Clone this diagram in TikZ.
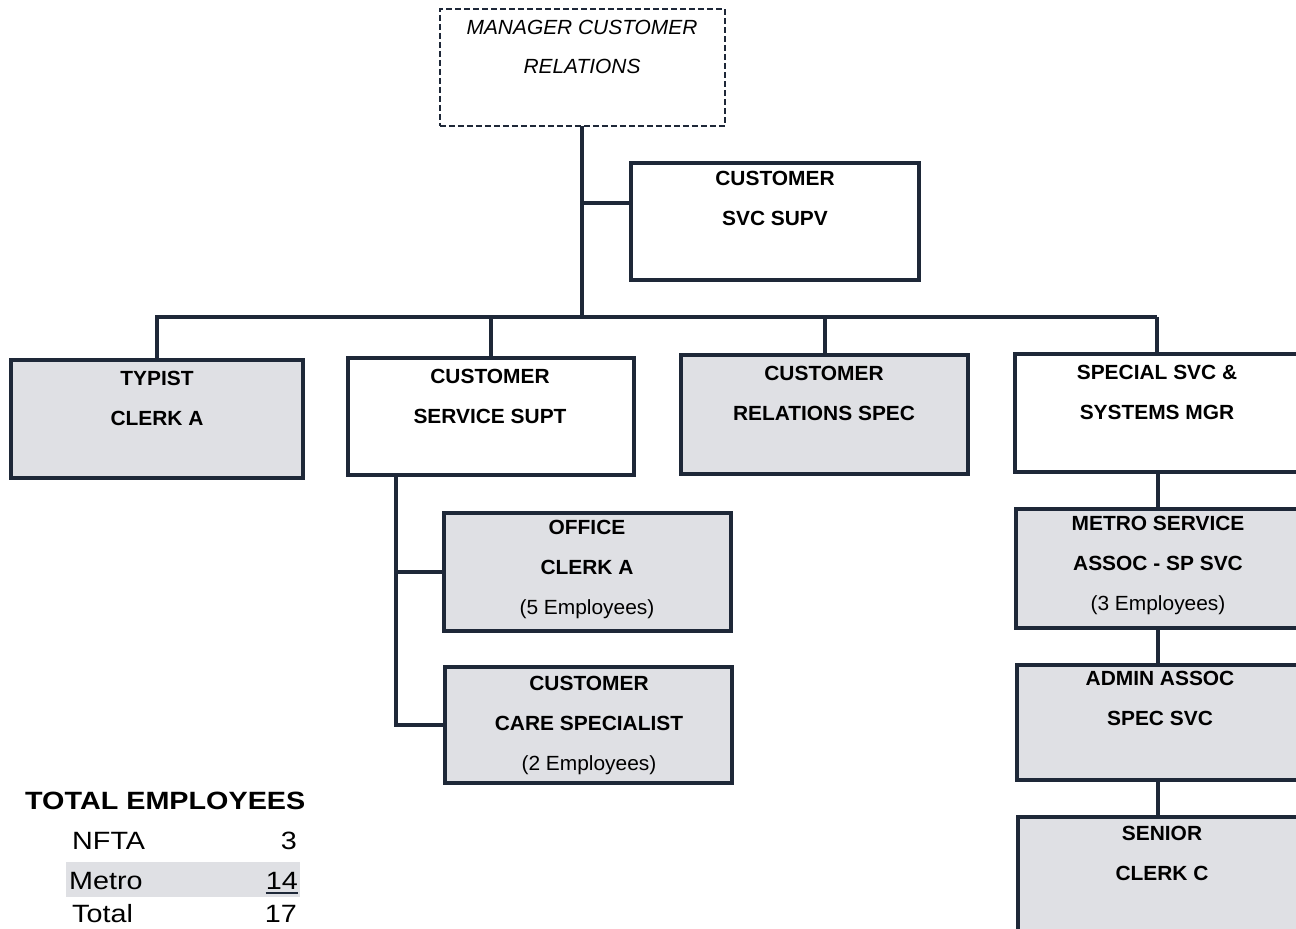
\documentclass[tikz,border=0pt]{standalone}
\usepackage{fontspec}
\setmainfont{Liberation Sans}
\usepackage{graphicx}
\definecolor{ink}{HTML}{1E2838}
\definecolor{panel}{HTML}{DFE0E4}
% centred multi-line title, baseline on its first line
\newcommand\stack[1]{\scalebox{1.02}[1]{\begin{tabular}[t]{@{}c@{}}#1\end{tabular}}}
\newcommand\legfont{\fontsize{25}{30}\selectfont}
\newcommand\legtxt[1]{\scalebox{1.15}[1]{#1}}

\begin{document}
\begin{tikzpicture}[x=1pt, y=-1pt,
  post/.style={draw=ink, line width=4pt, inner sep=0pt, anchor=north west},
  shaded/.style={post, fill=panel},
  plain/.style={post, fill=white},
  vacant/.style={draw=ink, line width=1.8pt, dash pattern=on 6pt off 3pt,
                 fill=white, inner sep=0pt, anchor=north west},
  conn/.style={draw=ink, line width=4pt},
  title/.style={anchor=base, inner sep=0pt, font=\fontsize{20.5}{40}\selectfont\bfseries},
  leg/.style={inner sep=0pt, font=\legfont}]

\useasboundingbox (0,0) rectangle (1296,929);
\clip (0,0) rectangle (1296,929);

% ---------- connectors ----------
\coordinate (bus-l) at (155,317);
\coordinate (bus-r) at (1157,317);
\coordinate (mgr-foot) at (582,125);
\coordinate (supv-tap) at (582,203);
\coordinate (supt-foot) at (396,473);
\coordinate (spec-line) at (1158,470);

\draw[conn] (mgr-foot) -- (mgr-foot |- bus-l);
\draw[conn] (bus-l) -- (bus-r);

% ---------- boxes ----------
\node[vacant, minimum width=285pt, minimum height=117pt] (mgr) at (439,8) {};
\node[plain,  minimum width=288pt, minimum height=117pt] (supv) at (629,161) {};
\node[shaded, minimum width=292pt, minimum height=118pt] (typist) at (9,358) {};
\node[plain,  minimum width=286pt, minimum height=117pt] (supt) at (346,356) {};
\node[shaded, minimum width=287pt, minimum height=119pt] (crs) at (679,353) {};
\node[plain,  minimum width=290pt, minimum height=118pt] (ssm) at (1013,352) {};
\node[shaded, minimum width=287pt, minimum height=118pt] (office) at (442,511) {};
\node[shaded, minimum width=287pt, minimum height=116pt] (care) at (443,665) {};
\node[shaded, minimum width=290pt, minimum height=119pt] (metro) at (1014,507) {};
\node[shaded, minimum width=290pt, minimum height=115pt] (admin) at (1015,663) {};
\node[shaded, minimum width=290pt, minimum height=125pt] (senior) at (1016,815) {};

% ---------- reporting lines ----------
\draw[conn] (supv-tap) -- (supv-tap -| supv.west);
\draw[conn] (typist.north) -- (typist.north |- bus-l);
\draw[conn] (supt.north) -- (supt.north |- bus-l);
\draw[conn] (crs.north) -- (crs.north |- bus-l);
\draw[conn] (bus-r) -- (bus-r |- ssm.north);
\draw[conn] (supt-foot) -- (supt-foot |- care.west) -- (care.west);
\draw[conn] (supt-foot |- office.west) -- (office.west);
\draw[conn] (spec-line |- ssm.south) -- (spec-line |- metro.north);
\draw[conn] (spec-line |- metro.south) -- (spec-line |- admin.north);
\draw[conn] (spec-line |- admin.south) -- (spec-line |- senior.north);

% ---------- titles ----------
\node[title, font=\fontsize{20.5}{39}\selectfont\itshape] (mgr-t) at (582,34)
  {\stack{MANAGER CUSTOMER\\RELATIONS}};
\node[title] (supv-t) at (775,185) {\stack{CUSTOMER\\SVC SUPV}};
\node[title] (typist-t) at (157,385) {\stack{TYPIST\\CLERK A}};
\node[title] (supt-t) at (490,383) {\stack{CUSTOMER\\SERVICE SUPT}};
\node[title] (crs-t) at (824,380) {\stack{CUSTOMER\\RELATIONS SPEC}};
\node[title] (ssm-t) at (1157,379) {\stack{SPECIAL SVC \&\\SYSTEMS MGR}};
\node[title] (office-t) at (587,534) {\stack{OFFICE\\CLERK A\\\mdseries (5 Employees)}};
\node[title] (care-t) at (589,690) {\stack{CUSTOMER\\CARE SPECIALIST\\\mdseries (2 Employees)}};
\node[title] (metro-t) at (1158,530) {\stack{METRO SERVICE\\ASSOC - SP SVC\\\mdseries (3 Employees)}};
\node[title] (admin-t) at (1160,685) {\stack{ADMIN ASSOC\\SPEC SVC}};
\node[title] (senior-t) at (1162,840) {\stack{SENIOR\\CLERK C}};

% ---------- staff totals ----------
\node[fill=panel, inner sep=0pt, minimum width=234pt, minimum height=35pt,
      anchor=north west] (metro-band) at (66,862) {};
\node[leg, anchor=base west, font=\legfont\bfseries] (tot-head) at (25,809)
  {\legtxt{TOTAL EMPLOYEES}};
\node[leg, anchor=base west] (nfta-l) at (72,849) {\legtxt{NFTA}};
\node[leg, anchor=base east] (nfta-n) at (297,849) {\legtxt{3}};
\node[leg, anchor=base west] (metro-l) at (69,889) {\legtxt{Metro}};
\node[leg, anchor=base east] (metro-n) at (298,889) {\legtxt{14}};
\node[leg, anchor=base west] (total-l) at (72,922) {\legtxt{Total}};
\node[leg, anchor=base east] (total-n) at (297,922) {\legtxt{17}};
\draw[ink, line width=2pt] ([yshift=-4pt]metro-n.base west) -- ([yshift=-4pt]metro-n.base east);
\end{tikzpicture}
\end{document}
